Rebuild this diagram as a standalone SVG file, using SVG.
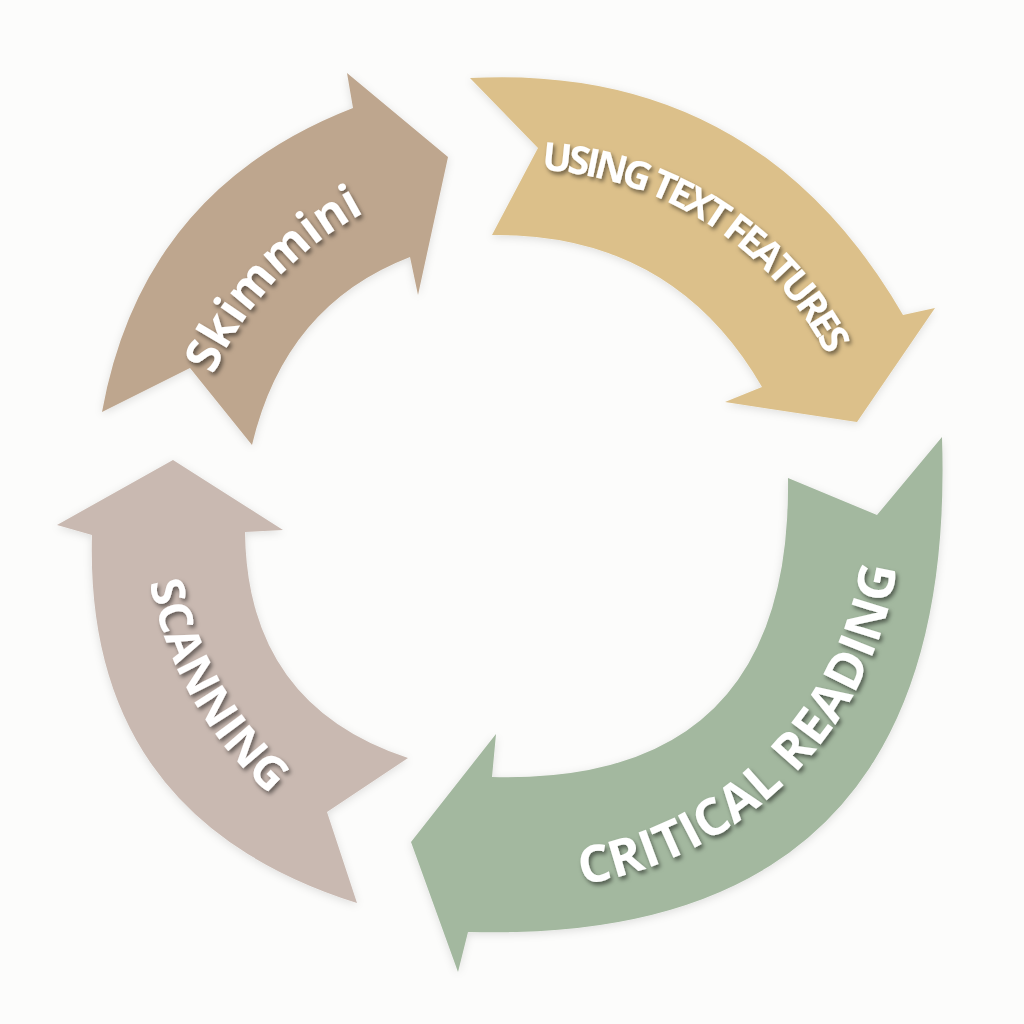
<svg xmlns="http://www.w3.org/2000/svg" width="1024" height="1024" viewBox="0 0 1024 1024">
  <defs>
    <filter id="arrowShadow" x="-10%" y="-10%" width="120%" height="120%">
      <feDropShadow dx="0" dy="2" stdDeviation="4" flood-color="#000" flood-opacity="0.12"/>
    </filter>
    <filter id="textShadow" x="-10%" y="-10%" width="120%" height="130%">
      <feDropShadow dx="2" dy="3" stdDeviation="2" flood-color="#000" flood-opacity="0.5"/>
    </filter>
    <path id="pSkim" d="M205.4,395.4 A338,338 0 0 1 435.5,184.5"/>
    <path id="pUsing" d="M463.6,174.2 A344,344 0 0 1 859.8,451.6"/>
    <path id="pCrit" d="M490,887.6 A378,378 0 0 0 901,511"/>
    <path id="pScan" d="M143,511 A380,380 0 0 0 333,840"/>
  </defs>
  <style>
    .arrow { filter: url(#arrowShadow); }
    .label { fill: #ffffff; font-family: "Open Sans", "Liberation Sans", sans-serif; font-weight: 700; filter: url(#textShadow); }
  </style>
  <rect width="1024" height="1024" fill="#fcfcfb"/>

  <g id="connectors">
    <g id="skimming">
      <path class="arrow" fill="#bea68e" d="M102,412 L190,368 L252,445 Q285,305 410,257 L418,295 L448,157 L347,73 L353,108 Q142,190 102,412 Z"/>
      <text class="label" font-size="48" font-weight="600"><textPath href="#pSkim" startOffset="22">Skimmini</textPath></text>
    </g>
    <g id="using-text-features">
      <path class="arrow" fill="#dcc08a" d="M470,78 L538,148 L492,235 Q673,233 762,387 L725,402 L857,422 L935,308 L903,315 Q757,63 470,78 Z"/>
      <text class="label" font-size="39"><textPath href="#pUsing" startOffset="78" textLength="356" lengthAdjust="spacing">USING TEXT FEATURES</textPath></text>
    </g>
    <g id="critical-reading">
      <path class="arrow" fill="#a3b89f" d="M942,437 L877,515 L788,478 Q792,785 492,777 L496,734 L411,842 L458,972 L468,932 Q959,946 942,437 Z"/>
      <text class="label" font-size="51"><textPath href="#pCrit" startOffset="92" textLength="478" lengthAdjust="spacing">CRITICAL READING</textPath></text>
    </g>
    <g id="scanning">
      <path class="arrow" fill="#c9b9b1" d="M92,535 L57,525 L173,460 L283,530 L245,532 Q247,705 408,758 L327,812 L357,903 Q84,817 92,535 Z"/>
      <text class="label" font-size="46"><textPath href="#pScan" startOffset="72" textLength="248" lengthAdjust="spacing">SCANNING</textPath></text>
    </g>
  </g>
</svg>
